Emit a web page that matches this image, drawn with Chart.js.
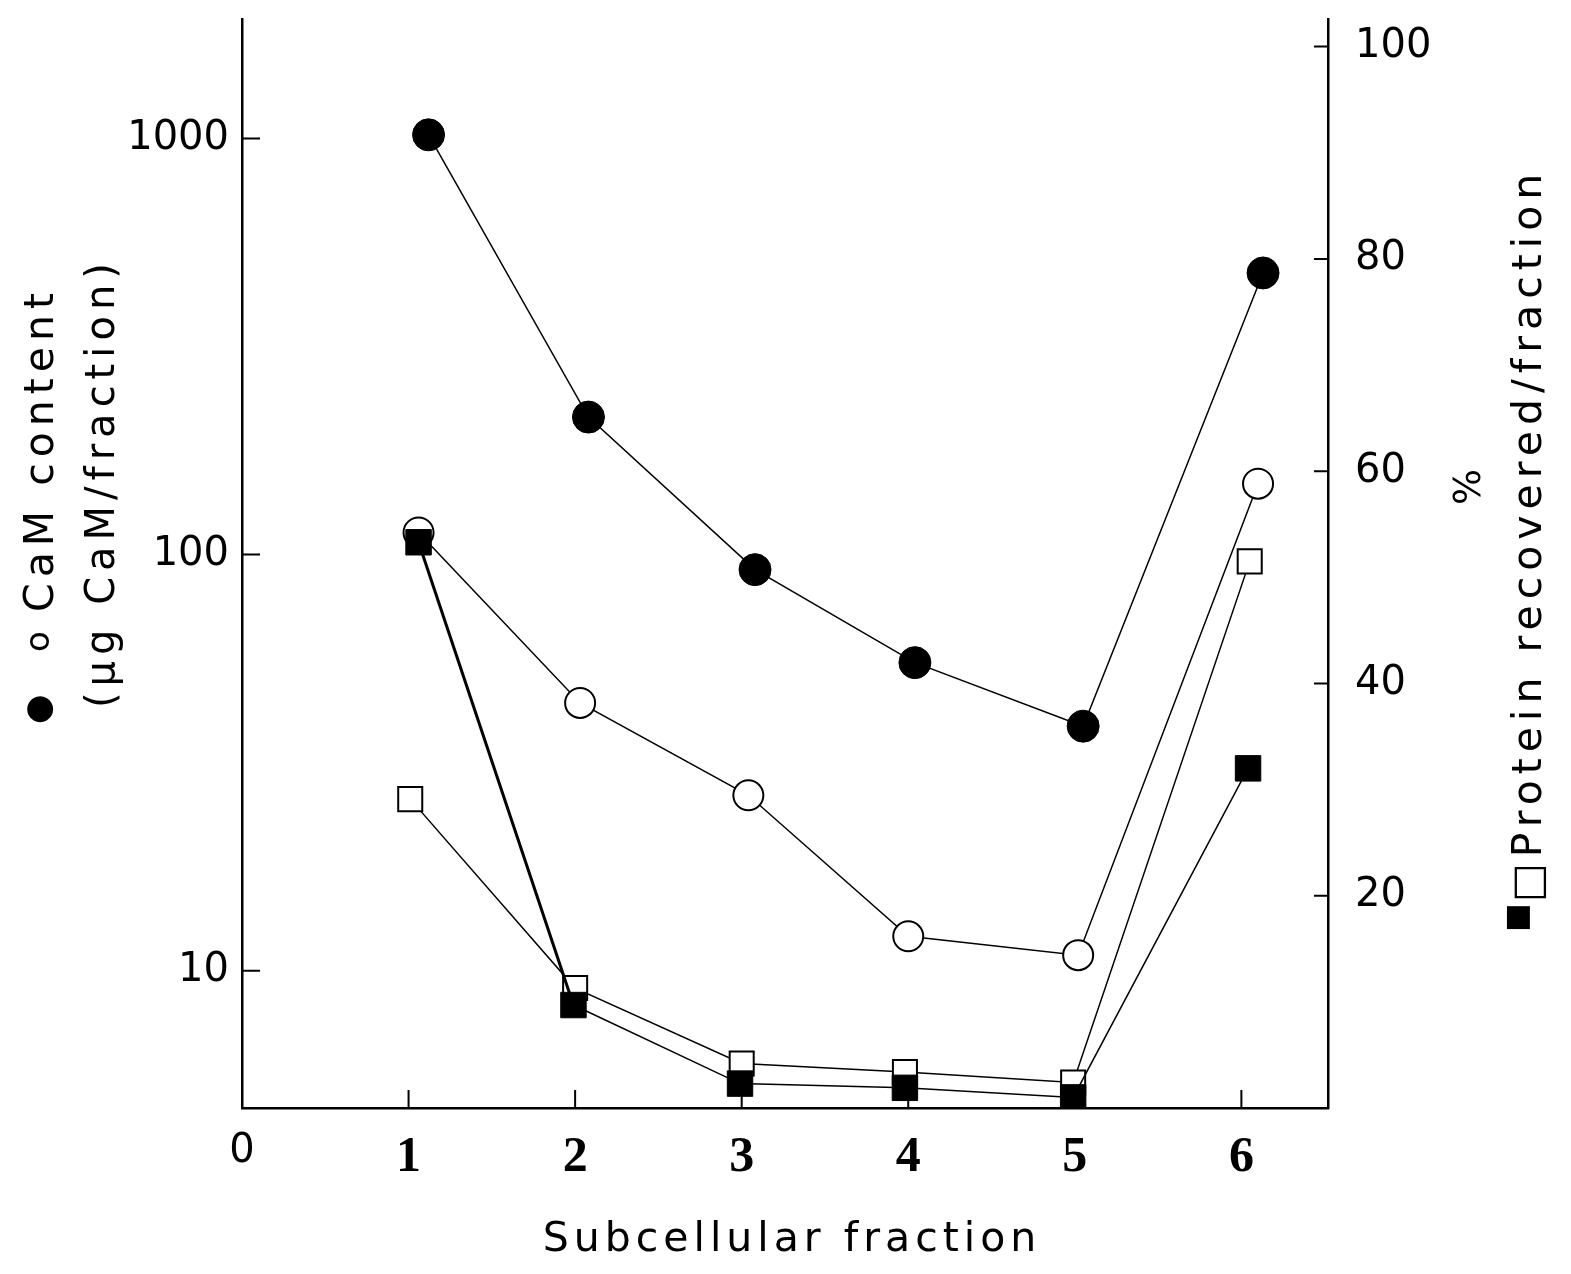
<!DOCTYPE html>
<html>
<head>
<meta charset="utf-8">
<script src="https://cdn.jsdelivr.net/npm/chart.js@4/dist/chart.umd.min.js"></script>
<style>
  html, body { margin: 0; padding: 0; background: #fff; }
  #wrap { width: 1571px; height: 1274px; }
</style>
</head>
<body>
<div id="wrap"><canvas id="myChart" width="1571" height="1274"></canvas></div>
<script>
// points sit a little off the integer fractions in the original figure
const filledCircleX = [1.12, 2.08, 3.08, 4.04, 5.05, 6.13];
const filledCircleCaM = [1020, 214, 92, 55, 38.7, 475];

const openCircleX = [1.06, 2.03, 3.04, 4.0, 5.02, 6.10];
const openCircleCaM = [113, 44, 26.4, 12.1, 10.9, 148];

const openSquareX = [1.01, 2.0, 3.0, 3.98, 4.99, 6.05];
const openSquareProtein = [29.1, 11.3, 4.2, 3.4, 2.4, 51.5];

const filledSquareX = [1.06, 1.99, 2.99, 3.98, 4.99, 6.04];
const filledSquareProtein = [53.3, 9.7, 2.3, 1.9, 1.0, 32.0];

const xTicks = [0, 1, 2, 3, 4, 5, 6];
const leftTicks = [10, 100, 1000];
const rightTicks = [20, 40, 60, 80, 100];

const toPoints = (xs, ys) => xs.map((x, i) => ({ x: x, y: ys[i] }));

// ticks of the original point into the plot
const innerTicks = {
    id: 'innerTicks',
    beforeDatasetsDraw(chart) {
        const { ctx, chartArea: a, scales } = chart;
        ctx.save();
        ctx.strokeStyle = '#000';
        ctx.lineWidth = 2;
        ctx.beginPath();
        scales.x.ticks.forEach(t => {
            if (t.value === 0) return;
            const px = scales.x.getPixelForValue(t.value);
            ctx.moveTo(px, a.bottom);
            ctx.lineTo(px, a.bottom - 18);
        });
        scales.yL.ticks.forEach(t => {
            const py = scales.yL.getPixelForValue(t.value);
            ctx.moveTo(a.left, py);
            ctx.lineTo(a.left + 18, py);
        });
        scales.yR.ticks.forEach(t => {
            const py = scales.yR.getPixelForValue(t.value);
            ctx.moveTo(a.right, py);
            ctx.lineTo(a.right - 14, py);
        });
        ctx.stroke();
        ctx.restore();
    }
};

const axisText = {
    id: 'axisText',
    afterDraw(chart) {
        const ctx = chart.ctx;
        const vText = (str, x, y, font, spacing) => {
            ctx.save();
            ctx.translate(x, y);
            ctx.rotate(-Math.PI / 2);
            ctx.font = font;
            ctx.letterSpacing = spacing;
            ctx.textAlign = 'left';
            ctx.textBaseline = 'middle';
            ctx.fillText(str, 0, 0);
            ctx.restore();
        };
        ctx.save();
        ctx.fillStyle = '#000';

        ctx.font = '41px "DejaVu Sans"';
        ctx.letterSpacing = '5px';
        ctx.textAlign = 'center';
        ctx.textBaseline = 'middle';
        ctx.fillText('Subcellular fraction', 792, 1240);

        // left title
        vText('●', 40, 724, '34px "DejaVu Sans"', '0px');
        vText('o', 40, 652, '34px "DejaVu Sans"', '0px');
        vText('CaM content', 42, 612, '41px "DejaVu Sans"', '6px');
        vText('(μg CaM/fraction)', 104, 708, '40px "DejaVu Sans"', '6px');

        // right title
        vText('■', 1518, 932, '30px "DejaVu Sans"', '0px');
        vText('□Protein recovered/fraction', 1530, 902, '41px "DejaVu Sans"', '6px');
        vText('%', 1470, 505, '38px "DejaVu Sans"', '0px');
        ctx.restore();
    }
};

const noEdgePadding = axis => {
    axis.paddingTop = 0;
    axis.paddingBottom = 0;
};

const data = {
    datasets: [{
        label: 'protein (filled)',
        data: toPoints(filledSquareX, filledSquareProtein),
        yAxisID: 'yR',
        borderColor: '#000',
        borderWidth: 1.5,
        segment: {
            borderWidth: ctx => ctx.p0DataIndex === 0 ? 3 : 1.5
        },
        pointStyle: 'rect',
        pointRadius: 18,
        pointBackgroundColor: '#000',
        pointBorderColor: '#000',
        pointBorderWidth: 1
    }, {
        label: 'protein (open)',
        data: toPoints(openSquareX, openSquareProtein),
        yAxisID: 'yR',
        borderColor: '#000',
        borderWidth: 1.5,
        pointStyle: 'rect',
        pointRadius: 17,
        pointBackgroundColor: '#fff',
        pointBorderColor: '#000',
        pointBorderWidth: 2
    }, {
        label: 'CaM (filled)',
        data: toPoints(filledCircleX, filledCircleCaM),
        yAxisID: 'yL',
        borderColor: '#000',
        borderWidth: 1.5,
        pointStyle: 'circle',
        pointRadius: 16,
        pointBackgroundColor: '#000',
        pointBorderColor: '#000',
        pointBorderWidth: 1
    }, {
        label: 'CaM (open)',
        data: toPoints(openCircleX, openCircleCaM),
        yAxisID: 'yL',
        borderColor: '#000',
        borderWidth: 1.5,
        pointStyle: 'circle',
        pointRadius: 15,
        pointBackgroundColor: '#fff',
        pointBorderColor: '#000',
        pointBorderWidth: 2
    }]
};

const config = {
    type: 'line',
    data: data,
    plugins: [innerTicks, axisText],
    options: {
        responsive: false,
        animation: false,
        events: [],
        elements: {
            line: { tension: 0, fill: false }
        },
        layout: {
            padding: { top: 15, left: 0, right: 0, bottom: 0 }
        },
        plugins: {
            legend: { display: false },
            tooltip: { enabled: false }
        },
        scales: {
            x: {
                type: 'linear',
                min: 0,
                max: 6.52,
                afterBuildTicks: axis => { axis.ticks = xTicks.map(v => ({ value: v })); },
                afterFit: axis => {
                    axis.height = 166;
                    axis.paddingLeft = 0;
                    axis.paddingRight = 0;
                },
                grid: { display: false, drawTicks: false },
                border: { display: true, color: '#000', width: 2.5 },
                ticks: {
                    color: '#000',
                    padding: 20,
                    autoSkip: false,
                    maxRotation: 0,
                    callback: v => String(v),
                    font: ctx => (ctx.tick && ctx.tick.value === 0)
                        ? { family: 'DejaVu Sans', size: 40 }
                        : { family: 'Liberation Serif', size: 50, weight: 'bold' }
                }
            },
            yL: {
                type: 'logarithmic',
                position: 'left',
                min: 4.68,
                max: 1936,
                afterBuildTicks: axis => { axis.ticks = leftTicks.map(v => ({ value: v })); },
                afterFit: axis => {
                    axis.width = 242;
                    noEdgePadding(axis);
                },
                grid: { display: false, drawTicks: false },
                border: { display: true, color: '#000', width: 2.5 },
                ticks: {
                    color: '#000',
                    padding: 13,
                    callback: v => String(v),
                    font: { family: 'DejaVu Sans', size: 40 }
                }
            },
            yR: {
                type: 'linear',
                position: 'right',
                min: 0,
                max: 102.6,
                afterBuildTicks: axis => { axis.ticks = rightTicks.map(v => ({ value: v })); },
                afterFit: axis => {
                    axis.width = 243;
                    noEdgePadding(axis);
                },
                grid: { display: false, drawTicks: false },
                border: { display: true, color: '#000', width: 2.5 },
                ticks: {
                    color: '#000',
                    padding: 27,
                    callback: v => String(v),
                    font: { family: 'DejaVu Sans', size: 40 }
                }
            }
        }
    }
};

const myChart = new Chart(
    document.getElementById('myChart'),
    config
);
</script>
</body>
</html>
